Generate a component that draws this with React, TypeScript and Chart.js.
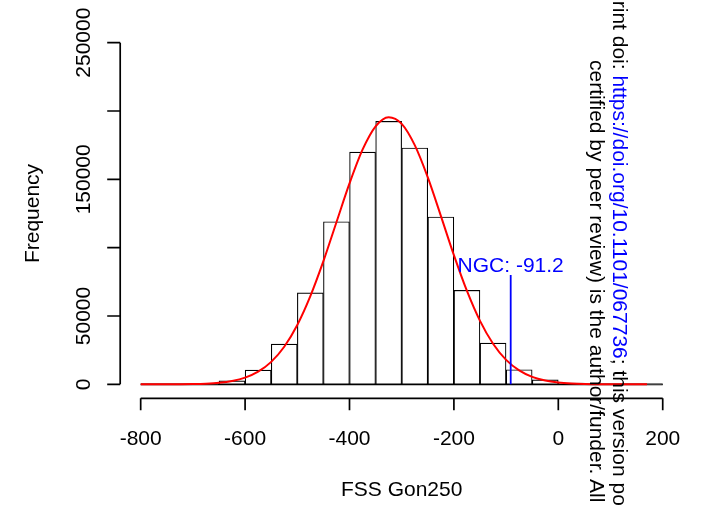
import React, { useEffect, useRef } from 'react';
import { Chart, registerables } from 'chart.js';

Chart.register(...registerables);

// ---- data ----
const binStarts = [-800, -750, -700, -650, -600, -550, -500, -450, -400, -350, -300, -250, -200, -150, -100, -50, 0, 50, 100, 150];
const binWidth = 50;
const binCounts = [50, 100, 400, 2600, 10500, 29500, 67000, 119000, 170000, 192500, 173000, 122500, 68800, 30200, 10700, 3300, 1000, 200, 50, 10];

const curveX = [-800, -775, -750, -725, -700, -675, -650, -625, -600, -575, -550, -525, -500, -475, -450, -425, -400, -375, -350, -325, -300, -275, -250, -225, -200, -175, -150, -125, -100, -75, -50, -25, 0, 25, 50, 75, 100, 125, 150, 170];
const curveY = [4, 11, 31, 83, 210, 510, 1150, 2440, 4890, 9240, 16450, 27500, 43400, 64500, 90100, 118600, 147000, 171700, 188800, 195500, 190600, 175000, 151400, 123300, 94500, 68300, 46400, 29700, 17900, 10200, 5440, 2740, 1300, 580, 244, 97, 36, 13, 4, 2];

const xTicks = [-800, -600, -400, -200, 0, 200];
const xTickLabels = ['-800', '-600', '-400', '-200', '0', '200'];
const yTicks = [0, 50000, 100000, 150000, 200000, 250000];
const yTickLabels = ['0', '50000', '', '150000', '', '250000'];

const ngcValue = -91.2;
const ngcLineTop = 80000;
const ngcLabel = 'NGC: -91.2';
const xTitle = 'FSS Gon250';
const yTitle = 'Frequency';

const wmLine1Pre = 'bioRxiv preprint doi: ';
const wmLine1Link = 'https://doi.org/10.1101/067736';
const wmLine1Post = '; this version posted August 3, 2016. The copyright holder for this preprint (which was not';
const wmLine2 = 'certified by peer review) is the author/funder. All rights reserved. No reuse allowed without permission.';

const FONT = "'Liberation Sans', Arial, Helvetica, sans-serif";

const axesPlugin = {
  id: 'rAxes',
  beforeDatasetsDraw(chart: any) {
    const { ctx, scales } = chart;
    const xs = scales.x;
    const ys = scales.y;
    const y0 = ys.getPixelForValue(0);
    ctx.save();
    ctx.strokeStyle = '#000';
    ctx.lineWidth = 1.7;
    ctx.beginPath();
    ctx.moveTo(xs.getPixelForValue(binStarts[0]), y0);
    ctx.lineTo(xs.getPixelForValue(binStarts[binStarts.length - 1] + binWidth), y0);
    ctx.stroke();
    ctx.restore();
  },
  afterDraw(chart: any) {
    const { ctx, scales, chartArea } = chart;
    const xs = scales.x;
    const ys = scales.y;
    ctx.save();
    ctx.strokeStyle = '#000';
    ctx.fillStyle = '#000';
    ctx.lineWidth = 1.7;
    ctx.font = `21px ${FONT}`;

    // y axis
    const ax = chartArea.left + 0.4;
    ctx.beginPath();
    ctx.moveTo(ax, ys.getPixelForValue(yTicks[0]));
    ctx.lineTo(ax, ys.getPixelForValue(yTicks[yTicks.length - 1]));
    yTicks.forEach((t) => {
      const py = ys.getPixelForValue(t);
      ctx.moveTo(ax, py);
      ctx.lineTo(ax - 13, py);
    });
    ctx.stroke();
    ctx.textAlign = 'center';
    ctx.textBaseline = 'alphabetic';
    yTicks.forEach((t, i) => {
      const lab = yTickLabels[i];
      if (!lab) return;
      const py = ys.getPixelForValue(t);
      ctx.save();
      ctx.translate(90, py);
      ctx.rotate(-Math.PI / 2);
      ctx.fillText(lab, 0, 0);
      ctx.restore();
    });

    // x axis
    const ay = ys.getPixelForValue(0) + 14;
    ctx.beginPath();
    ctx.moveTo(xs.getPixelForValue(xTicks[0]), ay);
    ctx.lineTo(xs.getPixelForValue(xTicks[xTicks.length - 1]), ay);
    xTicks.forEach((t) => {
      const px = xs.getPixelForValue(t);
      ctx.moveTo(px, ay);
      ctx.lineTo(px, ay + 12);
    });
    ctx.stroke();
    xTicks.forEach((t, i) => {
      ctx.fillText(xTickLabels[i], xs.getPixelForValue(t), 445);
    });

    // titles
    const midX = (xs.getPixelForValue(xTicks[0]) + xs.getPixelForValue(xTicks[xTicks.length - 1])) / 2;
    ctx.fillText(xTitle, midX, 496);
    const midY = (ys.getPixelForValue(yTicks[0]) + ys.getPixelForValue(yTicks[yTicks.length - 1])) / 2;
    ctx.save();
    ctx.translate(38.5, midY);
    ctx.rotate(-Math.PI / 2);
    ctx.fillText(yTitle, 0, 0);
    ctx.restore();

    // NGC label
    ctx.fillStyle = '#0000FF';
    ctx.fillText(ngcLabel, xs.getPixelForValue(ngcValue), ys.getPixelForValue(ngcLineTop) - 3.5);
    ctx.restore();
  },
};

function App() {
  const canvasRef = useRef<HTMLCanvasElement | null>(null);

  useEffect(() => {
    const canvas = canvasRef.current;
    if (!canvas) return;
    const chart = new Chart(canvas, {
      type: 'bar',
      data: {
        datasets: [
          {
            type: 'line',
            label: 'NGC',
            data: [
              { x: ngcValue, y: 0 },
              { x: ngcValue, y: ngcLineTop },
            ],
            borderColor: '#0000FF',
            borderWidth: 1.8,
            pointRadius: 0,
            order: 1,
          } as any,
          {
            type: 'line',
            label: 'Normal fit',
            data: curveX.map((x, i) => ({ x, y: curveY[i] })),
            borderColor: '#FF0000',
            borderWidth: 2,
            pointRadius: 0,
            cubicInterpolationMode: 'monotone',
            order: 2,
          } as any,
          {
            type: 'bar',
            label: 'Frequency',
            data: binStarts.map((s, i) => ({ x: s + binWidth / 2, y: binCounts[i] })),
            backgroundColor: '#FFFFFF',
            borderColor: '#000000',
            borderWidth: 1.15,
            borderSkipped: false,
            inflateAmount: 0.25,
            barPercentage: 1,
            categoryPercentage: 1,
            order: 3,
          } as any,
        ],
      },
      options: {
        responsive: false,
        animation: false,
        devicePixelRatio: 1,
        layout: { padding: { left: 119.8, right: 21.4, top: 29, bottom: 107 } },
        plugins: { legend: { display: false }, tooltip: { enabled: false } },
        scales: {
          x: { type: 'linear', min: -840, max: 240, display: false, offset: false },
          y: { type: 'linear', min: -10000, max: 260000, display: false },
        },
      } as any,
      plugins: [axesPlugin],
    });
    return () => chart.destroy();
  }, []);

  const wmStyle: React.CSSProperties = {
    position: 'absolute',
    whiteSpace: 'nowrap',
    transform: 'rotate(90deg)',
    transformOrigin: '0 0',
    fontFamily: FONT,
    fontSize: 21,
    lineHeight: '23px',
    color: '#000',
  };

  return (
    <div style={{ position: 'absolute', left: 0, top: 0, width: 705, height: 505, overflow: 'hidden', background: '#fff' }}>
      <canvas ref={canvasRef} width={705} height={505} style={{ position: 'absolute', left: 0, top: 0 }} />
      <div style={{ ...wmStyle, left: 631.8, top: -116 }}>
        {wmLine1Pre}
        <span style={{ color: '#0000FF' }}>{wmLine1Link}</span>
        {wmLine1Post}
      </div>
      <div style={{ ...wmStyle, left: 608.5, top: 60 }}>{wmLine2}</div>
    </div>
  );
}

export default App;
